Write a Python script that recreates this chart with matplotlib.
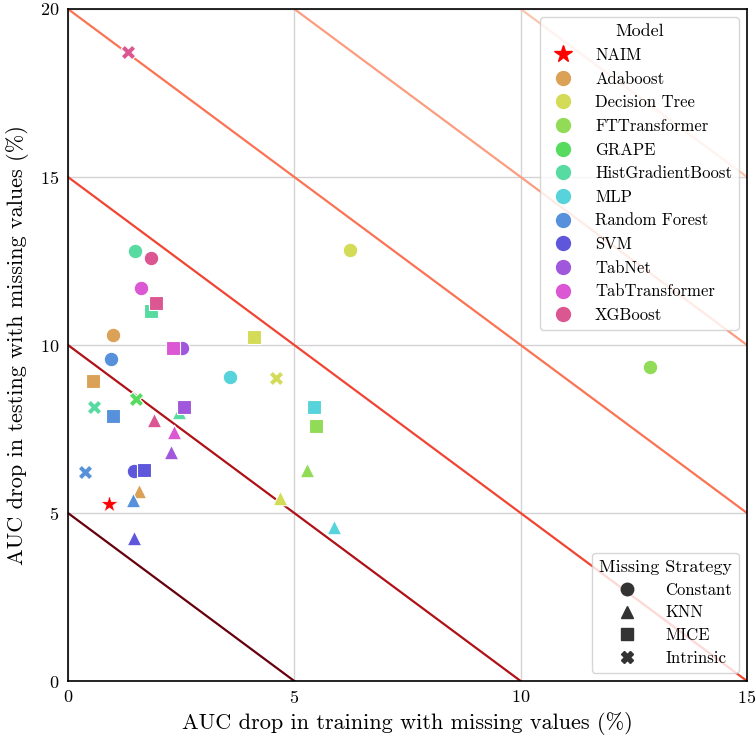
import numpy as np
import matplotlib
matplotlib.use("Agg")
import matplotlib.pyplot as plt
import seaborn as sns
from matplotlib.lines import Line2D

plt.rcParams["font.family"] = "serif"
plt.rcParams["font.serif"] = ["cmr10", "DejaVu Serif"]
plt.rcParams["mathtext.fontset"] = "cm"
plt.rcParams["axes.formatter.use_mathtext"] = True

models = ["Adaboost", "Decision Tree", "FTTransformer", "GRAPE", "HistGradientBoost",
          "MLP", "Random Forest", "SVM", "TabNet", "TabTransformer", "XGBoost"]
nan = np.nan

# AUC drops (%) per missing strategy, in the order of `models`
constant_train = [0.99, 6.22, 12.86, nan, 1.48, 3.57, 0.95, 1.46, 2.51, 1.61, 1.83]
constant_test = [10.30, 12.84, 9.35, nan, 12.80, 9.04, 9.58, 6.26, 9.90, 11.69, 12.58]
knn_train = [1.57, 4.68, 5.28, nan, 2.45, 5.88, 1.44, 1.47, 2.27, 2.35, 1.89]
knn_test = [5.65, 5.46, 6.29, nan, 8.01, 4.58, 5.39, 4.27, 6.83, 7.40, 7.77]
mice_train = [0.55, 4.12, 5.48, nan, 1.83, 5.43, 1.00, 1.68, 2.56, 2.31, 1.94]
mice_test = [8.94, 10.25, 7.58, nan, 11.00, 8.15, 7.90, 6.28, 8.16, 9.90, 11.26]
intrinsic_train = [nan, 4.59, nan, 1.50, 0.58, nan, 0.38, nan, nan, nan, 1.33]
intrinsic_test = [nan, 9.03, nan, 8.38, 8.15, nan, 6.23, nan, nan, nan, 18.73]

naim_train = 0.91
naim_test = 5.27

strategies = ["Constant", "KNN", "MICE", "Intrinsic"]
markers = ["o", "^", "s", "X"]
train_drop = [constant_train, knn_train, mice_train, intrinsic_train]
test_drop = [constant_test, knn_test, mice_test, intrinsic_test]

iso_levels = [5, 10, 15, 20, 25, 30]

colors = sns.color_palette("hls", 12)[1:]

fig = plt.figure(figsize=(7.55, 7.43), dpi=100)
ax = fig.add_axes([0.090, 0.0834, 0.8994, 0.9045])

ax.set_xlim(0, 15)
ax.set_ylim(0, 20)
ax.set_xticks([0, 5, 10, 15])
ax.set_yticks([0, 5, 10, 15, 20])
ax.grid(True, color="#d3d3d3", linewidth=1.0, zorder=0)
ax.set_axisbelow(True)
for sp in ax.spines.values():
    sp.set_color("black")
    sp.set_linewidth(1.2)

# lines of constant total drop
line_cols = plt.cm.Reds([1.0, 0.84, 0.6, 0.47, 0.34, 0.22])
xs = np.linspace(0, 15, 200)
for lvl, c in zip(iso_levels, line_cols):
    ax.plot(xs, lvl - xs, color=c, linewidth=1.6, zorder=1)

for mk, xt, yt in zip(markers, train_drop, test_drop):
    for i in range(len(models)):
        if np.isnan(xt[i]):
            continue
        ax.scatter(xt[i], yt[i], marker=mk, s=110, color=colors[i],
                   edgecolors="white", linewidths=0.8, zorder=3)

ax.scatter(naim_train, naim_test, marker="*", s=170, color="red",
           edgecolors="white", linewidths=0.5, zorder=4)

ax.tick_params(axis="both", labelsize=13, length=0, pad=6)
ax.set_xlabel("AUC drop in training with missing values (%)", fontsize=16, labelpad=4)
ax.set_ylabel("AUC drop in testing with missing values (%)", fontsize=16, labelpad=8)

model_handles = [Line2D([], [], marker="*", color="red", linestyle="", markersize=13, label="NAIM")]
for c, m in zip(colors, models):
    model_handles.append(Line2D([], [], marker="o", color=c, linestyle="", markersize=10, label=m))
leg1 = ax.legend(handles=model_handles, title="Model", loc="upper right",
                 fontsize=12, title_fontsize=13, framealpha=0.8,
                 labelspacing=0.5, handletextpad=0.9, borderaxespad=0.5)
ax.add_artist(leg1)

strat_handles = [Line2D([], [], marker=mk, color="#333333", linestyle="", markersize=9, label=s)
                 for mk, s in zip(markers, strategies)]
ax.legend(handles=strat_handles, title="Missing Strategy", loc="lower right",
          fontsize=12, title_fontsize=13, framealpha=0.8,
          labelspacing=0.45, handlelength=3.4, handletextpad=0.6, borderaxespad=0.5)

fig.savefig("out.png", dpi=100)
